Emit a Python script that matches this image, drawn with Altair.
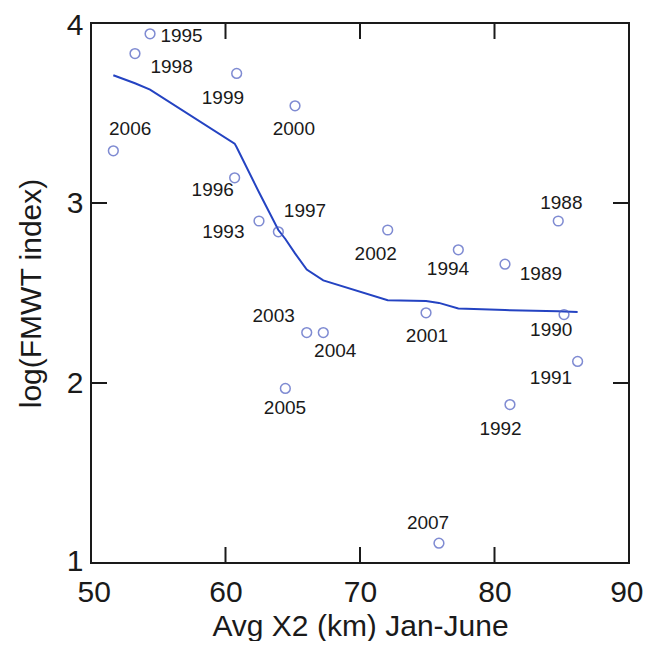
import altair as alt
import pandas as pd

# ---- data ----
years = ["1995", "1998", "1999", "2000", "2006", "1996", "1993", "1997",
         "2002", "1994", "1989", "1988", "2001", "1990", "1991", "1992",
         "2003", "2004", "2005", "2007"]
x2 = [54.39, 53.27, 60.83, 65.17, 51.66, 60.68, 62.49, 63.93,
      72.06, 77.31, 80.78, 84.74, 74.91, 85.17, 86.18, 81.15,
      66.04, 67.27, 64.45, 75.87]
fmwt = [3.94, 3.83, 3.72, 3.54, 3.29, 3.14, 2.90, 2.84,
        2.85, 2.74, 2.66, 2.90, 2.39, 2.38, 2.12, 1.88,
        2.28, 2.28, 1.97, 1.11]
label_x = [56.73, 55.99, 59.81, 65.08, 52.91, 59.05, 59.84, 65.91,
           71.17, 76.54, 83.45, 84.97, 74.98, 84.22, 84.20, 80.45,
           63.58, 68.16, 64.42, 75.06]
label_y = [3.93, 3.755, 3.583, 3.413, 3.413, 3.07, 2.839, 2.956,
           2.719, 2.636, 2.603, 3.002, 2.262, 2.294, 2.029, 1.744,
           2.373, 2.179, 1.862, 1.221]

line_x = [51.66, 53.27, 54.39, 60.68, 60.83, 62.49, 63.93, 64.45, 65.17, 66.04,
          67.27, 72.06, 74.91, 75.87, 77.31, 80.78, 81.15, 84.74, 85.17, 86.18]
line_y = [3.71, 3.665, 3.63, 3.33, 3.31, 3.06, 2.85, 2.80, 2.72, 2.63,
          2.57, 2.46, 2.455, 2.445, 2.414, 2.405, 2.404, 2.398, 2.397, 2.395]

x_axis_values = [50, 60, 70, 80, 90]
y_axis_values = [1, 2, 3, 4]
x_inner_ticks = [60, 70, 80]
y_inner_ticks = [2, 3]

pts = pd.DataFrame({"year": years, "x": x2, "y": fmwt})
labs = pd.DataFrame({"year": years, "lx": label_x, "ly": label_y})
lowess = pd.DataFrame({"x": line_x, "y": line_y})
xt = pd.DataFrame({"v": x_inner_ticks})
yt = pd.DataFrame({"v": y_inner_ticks})

W, H = 538, 540
FONT = "Liberation Sans"
INK = "#1a1a1a"

xscale = alt.Scale(domain=[50, 90], nice=False, zero=False)
yscale = alt.Scale(domain=[1, 4], nice=False, zero=False)

xaxis = alt.Axis(values=x_axis_values, format="d", grid=False, ticks=False, domain=False,
                 labelFontSize=30, labelFont=FONT, labelColor=INK,
                 labelPadding=14, labelFlush=True, labelFlushOffset=14,
                 title="Avg X2 (km) Jan-June", titleFontSize=30, titleFont=FONT,
                 titleFontWeight="normal", titleColor=INK,
                 titleX=W / 2, titleY=72, titleAlign="center",
                 titleBaseline="alphabetic", titleAnchor="middle")
yaxis = alt.Axis(values=y_axis_values, format="d", grid=False, ticks=False, domain=False,
                 labelFontSize=30, labelFont=FONT, labelColor=INK,
                 labelPadding=8, labelFlush=True, labelFlushOffset=13,
                 title="log(FMWT index)", titleFontSize=30, titleFont=FONT,
                 titleFontWeight="normal", titleColor=INK,
                 titleX=-60, titleY=H / 2, titleAngle=-90, titleAlign="center",
                 titleBaseline="middle")

base_points = alt.Chart(pts).mark_point(
    shape="circle", filled=False, size=95, strokeWidth=1.5, color="#4a5bc0"
).encode(
    x=alt.X("x:Q", scale=xscale, axis=xaxis),
    y=alt.Y("y:Q", scale=yscale, axis=yaxis),
)

line = alt.Chart(lowess).mark_line(color="#2443c2", strokeWidth=2).encode(
    x=alt.X("x:Q", scale=xscale),
    y=alt.Y("y:Q", scale=yscale),
)

labels = alt.Chart(labs).mark_text(
    fontSize=19, font=FONT, color=INK, align="center", baseline="middle"
).encode(
    x=alt.X("lx:Q", scale=xscale),
    y=alt.Y("ly:Q", scale=yscale),
    text="year:N",
)

tick_style = dict(color=INK, strokeWidth=2)
bottom_ticks = alt.Chart(xt).mark_rule(**tick_style).encode(
    x=alt.X("v:Q", scale=xscale), y=alt.value(H), y2=alt.value(H - 16))
top_ticks = alt.Chart(xt).mark_rule(**tick_style).encode(
    x=alt.X("v:Q", scale=xscale), y=alt.value(0), y2=alt.value(16))
left_ticks = alt.Chart(yt).mark_rule(**tick_style).encode(
    y=alt.Y("v:Q", scale=yscale), x=alt.value(0), x2=alt.value(16))
right_ticks = alt.Chart(yt).mark_rule(**tick_style).encode(
    y=alt.Y("v:Q", scale=yscale), x=alt.value(W), x2=alt.value(W - 16))

chart = alt.layer(
    line, base_points, labels, bottom_ticks, top_ticks, left_ticks, right_ticks
).properties(
    width=W, height=H,
    padding={"left": 83, "top": 15, "right": 14, "bottom": 78},
    autosize=alt.AutoSizeParams(type="none"),
    background="white",
).configure_view(
    stroke=INK, strokeWidth=2
)

chart.save("out.html", embed_options={"renderer": "svg", "actions": False})
